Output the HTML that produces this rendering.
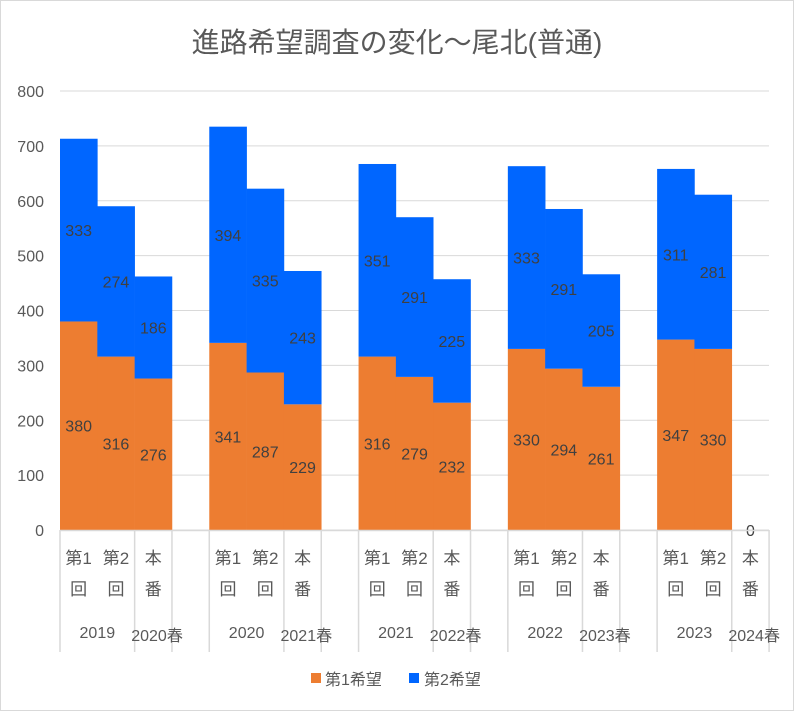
<!DOCTYPE html>
<html><head><meta charset="utf-8"><style>
body{margin:0;background:#fff;}
svg text{font-family:"Liberation Sans","Noto Sans CJK JP",sans-serif;}
</style></head><body>
<svg id="c" width="794" height="711">
<rect x="0.5" y="0.5" width="793" height="710" fill="#fff" stroke="#d9d9d9"/>
<text x="397" y="52" text-anchor="middle" font-size="28" fill="#595959">進路希望調査の変化～尾北(普通)</text>
<g id="grid"></g><g id="bars"></g><g id="labs"></g><g id="axis"></g>
<g>
<rect x="311" y="673" width="10" height="10" fill="#ed7d31"/>
<text x="325" y="685" font-size="16" fill="#595959">第1希望</text>
<rect x="409" y="673" width="10" height="10" fill="#0066ff"/>
<text x="424" y="685" font-size="16" fill="#595959">第2希望</text>
</g>
</svg>
<script>
const years=["2019","2020","2021","2022","2023"];
const springs=["2020春","2021春","2022春","2023春","2024春"];
const subs=[["第1","回"],["第2","回"],["本","番"]];
const first=[380,316,276,341,287,229,316,279,232,330,294,261,347,330,0];
const second=[333,274,186,394,335,243,351,291,225,333,291,205,311,281,null];
const yTicks=[0,100,200,300,400,500,600,700,800];
const NS="http://www.w3.org/2000/svg";
const X0=60,SW=37.32,Y0=530,YT=91,YMAX=800;
const y=v=>Y0-(v/YMAX)*(Y0-YT);
const slotX=i=>X0+(Math.floor(i/3)*4+i%3)*SW;
function mk(tag,attrs,parent,txt){const e=document.createElementNS(NS,tag);for(const k in attrs)e.setAttribute(k,attrs[k]);if(txt!==undefined)e.textContent=txt;document.getElementById(parent).appendChild(e);return e;}
yTicks.forEach(t=>{
 const l=mk('line',{x1:X0,x2:769,y1:y(t),y2:y(t),stroke:'#d9d9d9','stroke-width':1},'grid');
 
 
 const tx=mk('text',{x:44,y:y(t)+6,'text-anchor':'end','font-size':16,fill:'#595959'},'axis',String(t));
 
 
});
first.forEach((v,i)=>{
 const x=slotX(i);
 const r=mk('rect',{x:x,y:y(v),width:SW+0.3,height:Y0-y(v),fill:'#ed7d31'},'bars');
 
 
 const s=second[i];
 if(s!==null){
  const r2=mk('rect',{x:x,y:y(v+s),width:SW+0.3,height:y(v)-y(v+s),fill:'#0066ff'},'bars');
  
  
  const t2=mk('text',{x:x+SW/2,y:(y(v)+y(v+s))/2+6,'text-anchor':'middle','font-size':16,fill:'#404040'},'labs',String(s));
  
  
 }
 const ly=v>0?(Y0+y(v))/2+6:Y0+6;
 const t=mk('text',{x:x+SW/2,y:ly,'text-anchor':'middle','font-size':16,fill:'#404040'},'labs',String(v));
 
 
 subs[i%3].forEach((s,k)=>{
  const c=mk('text',{x:x+SW/2,y:564+k*31,'text-anchor':'middle','font-size':17,fill:'#595959'},'axis',s);
  
  
 });
});
const ax=mk('line',{x1:X0,x2:769,y1:Y0+0.5,y2:Y0+0.5,stroke:'#d9d9d9','stroke-width':1.5},'axis');


years.forEach((yr,g)=>{
 const gx=X0+g*4*SW;
 [gx,gx+2*SW,gx+3*SW].forEach(sx=>{
  const l=mk('line',{x1:sx,x2:sx,y1:Y0,y2:652,stroke:'#d9d9d9','stroke-width':1.5},'axis');
  
  
 });
 const t=mk('text',{x:gx+SW,y:638,'text-anchor':'middle','font-size':16,fill:'#595959'},'axis',yr);
 
 
 const t2=mk('text',{x:gx+2.6*SW,y:641,'text-anchor':'middle','font-size':16,fill:'#595959'},'axis',springs[g]);
 
 
});
</script>
</body></html>
